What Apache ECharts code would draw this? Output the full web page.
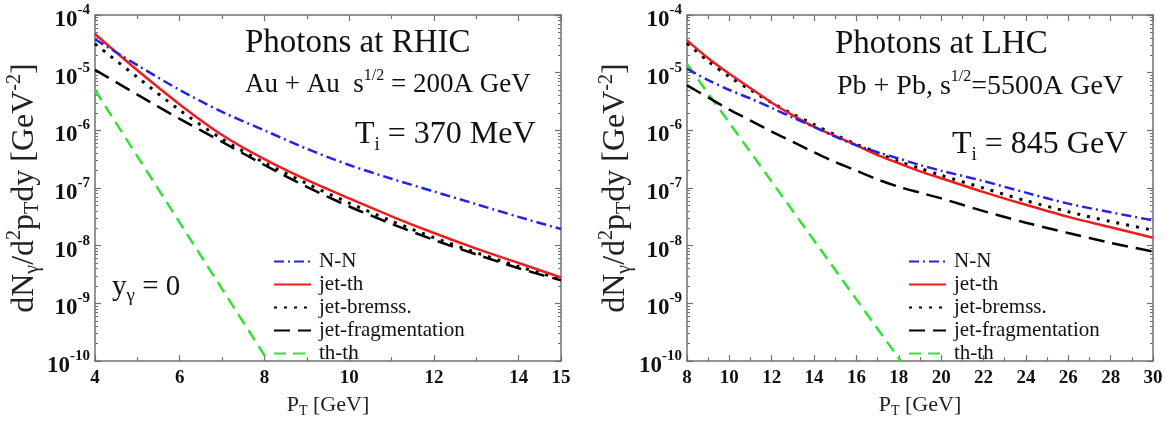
<!DOCTYPE html>
<html><head><meta charset="utf-8">
<script src="https://cdn.jsdelivr.net/npm/echarts@6/dist/echarts.min.js"></script>
<style>html,body{margin:0;padding:0;background:#fff}#c{width:1166px;height:423px}</style>
</head><body><div id="c"></div>
<script>
// ---------- data ----------
const seriesNames = ['N-N', 'jet-th', 'jet-bremss.', 'jet-fragmentation', 'th-th'];

// RHIC panel
const pTRhic = [4, 5, 6, 7, 8, 9, 10, 11, 12, 13, 14, 15];
const nnRhic    = [3.80e-5, 1.35e-5, 5.01e-6, 2.09e-6, 1.00e-6, 4.79e-7, 2.51e-7, 1.45e-7, 8.71e-8, 5.25e-8, 3.16e-8, 1.95e-8];
const jetThRhic = [4.68e-5, 1.10e-5, 2.82e-6, 8.32e-7, 3.16e-7, 1.38e-7, 6.61e-8, 3.24e-8, 1.66e-8, 8.91e-9, 5.01e-9, 2.82e-9];
const bremRhic  = [3.16e-5, 8.32e-6, 2.24e-6, 7.08e-7, 2.75e-7, 1.20e-7, 5.50e-8, 2.69e-8, 1.38e-8, 7.59e-9, 4.37e-9, 2.63e-9];
const fragRhic  = [1.12e-5, 4.17e-6, 1.58e-6, 6.31e-7, 2.51e-7, 1.05e-7, 4.79e-8, 2.40e-8, 1.26e-8, 7.08e-9, 4.07e-9, 2.51e-9];
const pTThRhic  = [4, 5, 6, 7, 8, 8.3];
const thThRhic  = [5.0e-6, 3.55e-7, 2.51e-8, 1.78e-9, 1.26e-10, 5.6e-11];

// LHC panel
const pTLhc = [8, 9, 10, 11, 12, 13, 14, 15, 16, 17, 18, 19, 20, 22, 24, 26, 28, 30];
const nnLhc    = [1.17e-5, 7.41e-6, 5.01e-6, 3.55e-6, 2.45e-6, 1.66e-6, 1.15e-6, 7.76e-7, 5.50e-7, 4.17e-7, 3.24e-7, 2.51e-7, 2.00e-7, 1.32e-7, 8.32e-8, 5.37e-8, 3.80e-8, 2.75e-8];
const jetThLhc = [3.63e-5, 1.78e-5, 9.55e-6, 5.37e-6, 3.02e-6, 1.82e-6, 1.15e-6, 7.94e-7, 5.50e-7, 3.72e-7, 2.69e-7, 1.95e-7, 1.48e-7, 8.51e-8, 5.13e-8, 3.16e-8, 2.09e-8, 1.38e-8];
const bremLhc  = [3.24e-5, 1.58e-5, 8.51e-6, 5.01e-6, 3.02e-6, 1.91e-6, 1.26e-6, 8.32e-7, 5.75e-7, 4.07e-7, 2.88e-7, 2.19e-7, 1.66e-7, 1.00e-7, 6.03e-8, 3.89e-8, 2.63e-8, 1.86e-8];
const fragLhc  = [6.03e-6, 3.72e-6, 2.29e-6, 1.48e-6, 9.55e-7, 6.31e-7, 4.17e-7, 2.82e-7, 2.00e-7, 1.41e-7, 1.05e-7, 8.32e-8, 6.61e-8, 3.98e-8, 2.51e-8, 1.66e-8, 1.12e-8, 7.94e-9];
const pTThLhc  = [8, 10, 12, 14, 16, 18, 18.4];
const thThLhc  = [1.41e-5, 1.35e-6, 1.29e-7, 1.23e-8, 1.17e-9, 1.12e-10, 7.1e-11];

// axis ranges / ticks
const xRangeRhic = [4, 15];
const xRangeLhc = [8, 30];
const yRange = [1e-10, 1e-4];
const yMinorTicks = [];
for (let e = -10; e < -4; e++) for (let m = 2; m <= 9; m++) yMinorTicks.push(m * Math.pow(10, e));

// ---------- styles ----------
const SERIF = '"Liberation Serif", "Times New Roman", serif';
const AX = '#707070';
const styles = {
  'N-N': {color: '#2323e6', width: 2.5, type: [10, 4, 2, 4]},
  'jet-th': {color: '#ee1c1c', width: 2.5, type: 'solid'},
  'jet-bremss.': {color: '#000', width: 3, type: [3, 7]},
  'jet-fragmentation': {color: '#000', width: 2.5, type: [16, 8]},
  'th-th': {color: '#33e233', width: 2.5, type: [12, 7]}
};

const zip = (xs, ys) => xs.map((x, i) => [x, ys[i]]);

function mkSeries(name, xs, ys, gi, smooth) {
  const s = styles[name];
  return {
    name, type: 'line', xAxisIndex: gi * 2, yAxisIndex: gi * 4,
    data: zip(xs, ys), symbol: 'none', showSymbol: false, smooth: smooth ? 0.3 : false,
    clip: true, animation: false,
    lineStyle: {color: s.color, width: s.width, type: s.type},
    itemStyle: {color: s.color}
  };
}

function xAxes(gi, range) {
  const base = {
    type: 'value', gridIndex: gi, min: range[0], max: range[1], interval: 2,
    splitLine: {show: false},
    axisLine: {show: true, onZero: false, lineStyle: {color: AX, width: 1.5}},
    axisTick: {show: true, inside: true, length: 6, lineStyle: {color: AX, width: 1.2}},
    minorTick: {show: true, splitNumber: 2, length: 4, lineStyle: {color: AX, width: 1.2}}
  };
  return [
    Object.assign({}, base, {
      position: 'bottom',
      axisLabel: {show: true, margin: 7, color: '#111', fontFamily: SERIF, fontWeight: 'bold', fontSize: 19},
      name: 'P{sub|T} [GeV]', nameLocation: 'middle', nameGap: 26,
      nameTextStyle: {color: '#222', fontFamily: SERIF, fontSize: 22, lineHeight: 26,
        rich: {sub: {fontFamily: SERIF, fontSize: 14, verticalAlign: 'bottom', lineHeight: 14, color: '#222'}}}
    }),
    Object.assign({}, base, {position: 'top', axisLabel: {show: false}})
  ];
}

function yAxes(gi, nameGap) {
  const base = {type: 'log', logBase: 10, gridIndex: gi, min: yRange[0], max: yRange[1], splitNumber: 6,
    splitLine: {show: false}, minorTick: {show: false}};
  const major = {
    axisLine: {show: true, lineStyle: {color: AX, width: 1.5}},
    axisTick: {show: true, inside: true, length: 6, lineStyle: {color: AX, width: 1.2}}
  };
  const minor = {
    axisLine: {show: false}, axisLabel: {show: false},
    axisTick: {show: true, inside: true, length: 3, customValues: yMinorTicks, lineStyle: {color: AX, width: 1}}
  };
  return [
    Object.assign({}, base, major, {
      position: 'left',
      axisLabel: {
        show: true, margin: 5, padding: [4, 0, 0, 0],
        formatter: v => '{b|10}{e|' + Math.round(Math.log10(v)) + '}',
        rich: {
          b: {fontFamily: SERIF, fontWeight: 'bold', fontSize: 23, lineHeight: 29, verticalAlign: 'bottom', color: '#111'},
          e: {fontFamily: SERIF, fontWeight: 'bold', fontSize: 15, lineHeight: 15, verticalAlign: 'top', color: '#111'}
        }
      },
      name: 'dN{sub|γ}/d{sup|2}p{sub|T}dy [GeV{sup|-2}]', nameLocation: 'middle', nameRotate: 90, nameGap: nameGap,
      nameTextStyle: {color: '#222', fontFamily: SERIF, fontSize: 32, lineHeight: 38,
        rich: {
          sub: {fontFamily: SERIF, fontSize: 20, lineHeight: 20, verticalAlign: 'bottom', color: '#222'},
          sup: {fontFamily: SERIF, fontSize: 20, lineHeight: 20, verticalAlign: 'top', color: '#222'}
        }}
    }),
    Object.assign({}, base, minor, {position: 'left'}),
    Object.assign({}, base, major, {position: 'right', axisLabel: {show: false}}),
    Object.assign({}, base, minor, {position: 'right'})
  ];
}

function legend(left) {
  return {
    data: seriesNames, orient: 'vertical', left: left, top: 246,
    itemWidth: 37, itemHeight: 12, itemGap: 2, selectedMode: false,
    itemStyle: {opacity: 0},
    textStyle: {fontFamily: SERIF, fontSize: 21, color: '#111', padding: [0, 0, 0, 3]}
  };
}

function txt(x, y, text, size, rich) {
  return {type: 'text', x, y, silent: true, style: {
    text, fill: '#111', fontFamily: SERIF, fontSize: size, lineHeight: size + 8,
    verticalAlign: 'middle', align: 'left', rich: rich || {}
  }};
}
const supR = s => ({sup: {fontFamily: SERIF, fontSize: s, lineHeight: s, verticalAlign: 'top', fill: '#111'}});
const subR = s => ({sub: {fontFamily: SERIF, fontSize: s, lineHeight: s, verticalAlign: 'bottom', fill: '#111'}});

const series = [
  mkSeries('th-th', pTThRhic, thThRhic, 0, false),
  mkSeries('jet-fragmentation', pTRhic, fragRhic, 0, true),
  mkSeries('jet-bremss.', pTRhic, bremRhic, 0, true),
  mkSeries('jet-th', pTRhic, jetThRhic, 0, true),
  mkSeries('N-N', pTRhic, nnRhic, 0, true),
  mkSeries('th-th', pTThLhc, thThLhc, 1, false),
  mkSeries('jet-fragmentation', pTLhc, fragLhc, 1, true),
  mkSeries('jet-bremss.', pTLhc, bremLhc, 1, true),
  mkSeries('jet-th', pTLhc, jetThLhc, 1, true),
  mkSeries('N-N', pTLhc, nnLhc, 1, true)
];

const chart = echarts.init(document.getElementById('c'), null, {renderer: 'canvas'});
chart.setOption({
  animation: false,
  backgroundColor: '#fff',
  grid: [
    {left: 95, top: 15, width: 466, height: 359},
    {left: 687, top: 15, width: 466, height: 354}
  ],
  xAxis: [].concat(xAxes(0, xRangeRhic), xAxes(1, xRangeLhc)),
  yAxis: [].concat(yAxes(0, 42), yAxes(1, 52)),
  legend: [legend(268), legend(903)],
  graphic: [
    txt(245, 43, 'Photons at RHIC', 33),
    txt(245, 85, 'Au + Au  s{sup|1/2} = 200A GeV', 27, supR(16)),
    txt(355, 135, 'T{sub|i} = 370 MeV', 32, subR(19)),
    txt(112, 287, 'y{sub|γ} = 0', 29, subR(19)),
    txt(835, 44, 'Photons at LHC', 33),
    txt(837, 87, 'Pb + Pb, s{sup|1/2}=5500A GeV', 28, supR(16)),
    txt(952, 145, 'T{sub|i} = 845 GeV', 32, subR(19))
  ],
  series
});
</script></body></html>
